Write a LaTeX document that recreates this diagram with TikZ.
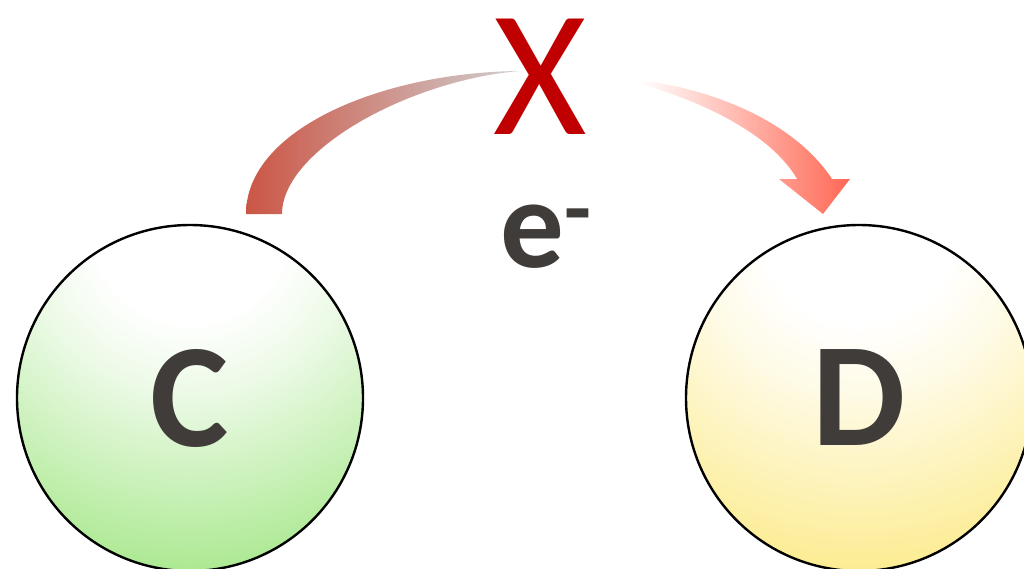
\documentclass[tikz,border=0pt]{standalone}
\usepackage{fontspec}
\setmainfont{Carlito}
\usetikzlibrary{positioning}
\definecolor{labelgray}{RGB}{64,60,58}
\definecolor{blockred}{RGB}{192,0,0}
\definecolor{arrowred}{RGB}{203,86,70}
\definecolor{arrowgray}{RGB}{208,208,208}
\definecolor{arrowsalmon}{RGB}{255,104,84}
\definecolor{ballgreen}{RGB}{172,233,146}
\definecolor{ballyellow}{RGB}{252,236,146}
\pgfdeclareradialshading{greenglow}{\pgfpointorigin}{color(0bp)=(white); color(7bp)=(white); color(12bp)=(ballgreen!22!white); color(25bp)=(ballgreen); color(50bp)=(ballgreen)}
\pgfdeclareradialshading{yellowglow}{\pgfpointorigin}{color(0bp)=(white); color(7bp)=(white); color(12bp)=(ballyellow!22!white); color(25bp)=(ballyellow); color(50bp)=(ballyellow)}
\tikzset{
  atom/.style={circle, draw=black, line width=2.4pt, minimum size=346pt, inner sep=0pt,
    text=labelgray, font=\bfseries\fontsize{148}{148}\selectfont,
    path picture={\shade[shading=#1] (path picture bounding box.north) ++(-346,-346) rectangle ++(692,692);}},
  blocked/.style={inner sep=0pt, text=blockred, font=\fontsize{180}{180}\selectfont},
  charge/.style={inner sep=0pt, text=labelgray, font=\bfseries\fontsize{127}{127}\selectfont}
}

\begin{document}
\begin{tikzpicture}[x=1pt,y=-1pt]
  \useasboundingbox (0,0) rectangle (1024,568);
  \clip (0,0) rectangle (1024,568);
  % arrow from C, fading out under the X
  \shade[left color=arrowred, right color=arrowgray]
    (246,214) .. controls (246,128) and (385,72) .. (520,71)
    .. controls (410,80) and (282,150) .. (282,214) -- cycle;
  % arrow into D
  \shade[left color=white, right color=arrowsalmon]
    (640,80) .. controls (730,92) and (800,130) .. (832,179)
    -- (850,179) -- (823,214) -- (779,179) -- (797,179)
    .. controls (775,140) and (715,105) .. (640,84) -- cycle;
  \node[atom=greenglow] (C) at (190,398) {C};
  \node[atom=yellowglow] (D) at (859,398) {D};
  \node[blocked] (X) at (540,77) {X};
  \node[charge, anchor=base west] (e) at (500,267) {e\raisebox{29pt}{\fontsize{88}{88}\selectfont -}};
\end{tikzpicture}
\end{document}
